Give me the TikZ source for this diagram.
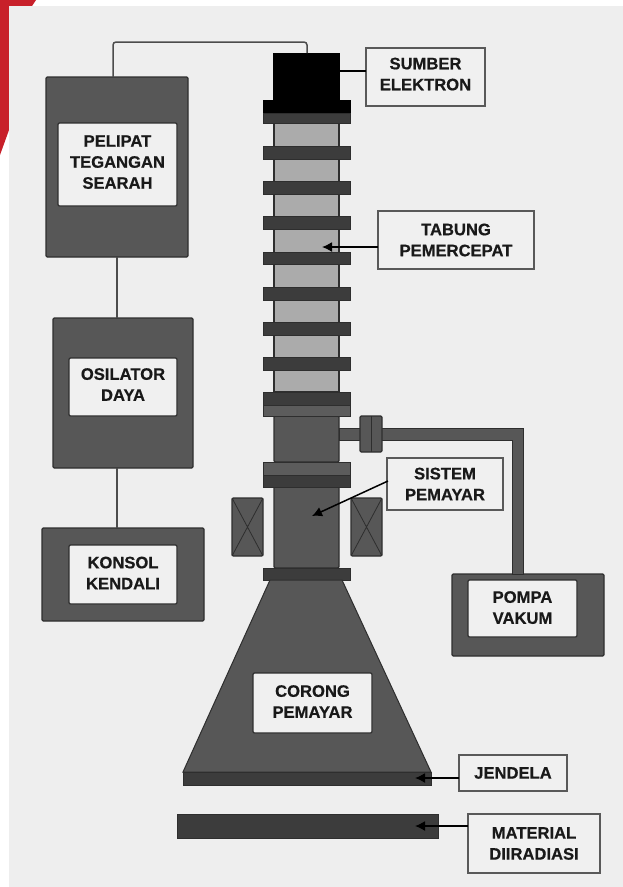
\documentclass[tikz,border=0pt]{standalone}
\usepackage{fontspec}
\setmainfont{Liberation Sans}[BoldFeatures={FakeBold=0.6}]
\usetikzlibrary{arrows.meta}
\definecolor{panel}{HTML}{EEEEEE}
\definecolor{redc}{HTML}{C8202A}
\definecolor{body}{HTML}{575757}
\definecolor{edge}{HTML}{2E2E2E}
\definecolor{ringc}{HTML}{3C3C3C}
\definecolor{ringl}{HTML}{5C5C5C}
\definecolor{tube}{HTML}{ABABAB}
\definecolor{labelc}{HTML}{F0F0F0}
\tikzset{
  solid box/.style={draw=edge,line width=1.3pt,fill=body,outer sep=0pt,inner sep=0pt,rounded corners=1.2pt},
  ring box/.style={draw=edge,line width=.8pt,fill=ringc,outer sep=0pt,inner sep=0pt},
  ring light/.style={draw=edge,line width=.8pt,fill=ringl,outer sep=0pt,inner sep=0pt},
  tube box/.style={draw=edge,line width=1.4pt,fill=tube,outer sep=0pt,inner sep=0pt},
  black box/.style={draw=black,fill=black,outer sep=0pt,inner sep=0pt},
  inner box/.style={draw=edge,line width=1.3pt,fill=labelc,outer sep=0pt,inner sep=0pt,align=center,rounded corners=1.2pt,
    font=\bfseries\fontsize{16.6}{21}\selectfont,text=black!90},
  call box/.style={draw=black!65,line width=1.2pt,fill=labelc,outer sep=0pt,inner sep=0pt,align=center,
    font=\bfseries\fontsize{16.6}{21}\selectfont,text=black!90},
  wire/.style={draw=black!70,line width=1.5pt},
  pointer/.style={draw=black,line width=1.5pt,-{Latex[length=10pt,width=10pt]}},
  pipe/.style={draw=edge,line width=1pt,fill=body},
}
% name, x1, y1, x2, y2, style, text
\newcommand{\pxbox}[7]{%
  \pgfmathsetmacro{\bxw}{#4-#2}\pgfmathsetmacro{\bxh}{#5-#3}%
  \pgfmathsetmacro{\bxc}{(#2+#4)/2}\pgfmathsetmacro{\bxm}{(#3+#5)/2}%
  \node[#6,minimum width=\bxw pt,minimum height=\bxh pt,anchor=center] (#1) at (\bxc,\bxm) {#7};}
\begin{document}
\begin{tikzpicture}[x=1pt,y=-1pt]
\useasboundingbox (0,0) rectangle (623,887);
\fill[white] (0,0) rectangle (623,887);
\fill[redc] (0,0) -- (36,0) -- (32,6) -- (9,6) -- (9,130) -- (0,155) -- cycle;
\fill[panel] (9,6) rectangle (623,887);

% wires
\coordinate (wA) at (113,42);
\coordinate (wB) at (307,42);

% left stack
\pxbox{psu}{46}{77}{188}{257}{solid box}{}
\pxbox{psulab}{58}{123}{177}{206}{inner box,text depth=5pt}{PELIPAT\\TEGANGAN\\SEARAH}
\pxbox{osc}{53}{318}{193}{468}{solid box}{}
\pxbox{osclab}{69}{358}{177}{416}{inner box,text depth=5pt}{OSILATOR\\DAYA}
\pxbox{con}{42}{528}{204}{621}{solid box}{}
\pxbox{conlab}{69}{545}{177}{604}{inner box,text depth=3pt}{KONSOL\\KENDALI}

% column
\pxbox{tubeb}{274}{123}{339}{392}{tube box}{}
\pxbox{colA}{274}{416}{339}{462}{solid box}{}
\pxbox{colB}{274}{486}{339}{568}{solid box}{}
\pxbox{src}{273}{53}{339}{101}{black box}{}
\pxbox{topA}{263}{100}{350}{113}{black box}{}
\pxbox{topB}{263}{113}{350}{123}{ring box}{}
\pxbox{ra}{263}{146}{350}{159}{ring box}{}
\pxbox{rb}{263}{181}{350}{194}{ring box}{}
\pxbox{rc}{263}{216}{350}{229}{ring box}{}
\pxbox{rd}{263}{252}{350}{264}{ring box}{}
\pxbox{re}{263}{287}{350}{300}{ring box}{}
\pxbox{rf}{263}{322}{350}{335}{ring box}{}
\pxbox{rg}{263}{357}{350}{370}{ring box}{}
\pxbox{fA}{263}{392}{350}{405}{ring box}{}
\pxbox{fB}{263}{405}{350}{416}{ring light}{}
\pxbox{gA}{263}{462}{350}{475}{ring light}{}
\pxbox{gB}{263}{475}{350}{487}{ring box}{}
\pxbox{hA}{263}{568}{350}{580}{ring box}{}

% coils
\pxbox{coilL}{232}{498}{263}{556}{solid box}{}
\draw[edge,line width=.8pt] (coilL.north west) -- (coilL.south east) (coilL.north east) -- (coilL.south west);
\pxbox{coilR}{351}{498}{382}{556}{solid box}{}
\draw[edge,line width=.8pt] (coilR.north west) -- (coilR.south east) (coilR.north east) -- (coilR.south west);

% funnel and window
\draw[draw=edge,line width=1pt,fill=body] (270,580) -- (342,580) -- (431,772) -- (183,772) -- cycle;
\pxbox{win}{183}{772}{431}{785}{ring box}{}
\pxbox{mat}{177}{814}{438}{838}{ring box}{}
\pxbox{corong}{253}{673}{372}{733}{inner box,text depth=3pt}{CORONG\\PEMAYAR}

% vacuum line
\pxbox{pump}{452}{574}{604}{656}{solid box}{}
\draw[pipe] (339,428) -- (523,428) -- (523,574) -- (512,574) -- (512,440) -- (339,440) -- cycle;
\fill[body] (513,429) rectangle (522,441);
\pxbox{flange}{360}{416}{382}{452}{solid box}{}
\draw[edge,line width=1pt] (flange.north) -- (flange.south);
\pxbox{pumplab}{468}{580}{577}{637}{inner box,text depth=2pt}{POMPA\\VAKUM}

% wires between units
\draw[wire,rounded corners=3pt] (psu.north -| wA) -- (wA) -- (wB) -- (src.north -| wB);
\draw[wire] (psu.south -| 117,0) -- (osc.north -| 117,0);
\draw[wire] (osc.south -| 117,0) -- (con.north -| 117,0);

% callouts
\pxbox{lsrc}{366}{48}{485}{106}{call box,text depth=6pt}{SUMBER\\ELEKTRON}
\pxbox{ltube}{378}{211}{534}{269}{call box}{TABUNG\\PEMERCEPAT}
\pxbox{lscan}{387}{458}{503}{510}{call box}{SISTEM\\PEMAYAR}
\pxbox{lwin}{459}{755}{567}{791}{call box}{JENDELA}
\pxbox{lmat}{468}{814}{600}{873}{call box}{MATERIAL\\DIIRADIASI}
\coordinate (tsrc) at (318,71);
\coordinate (ttube) at (322,247);
\coordinate (tscan) at (312,516);
\coordinate (twin) at (415,778);
\coordinate (tmat) at (415,826);
\draw[pointer] (lsrc.west |- tsrc) -- (tsrc);
\draw[pointer] (ltube.west |- ttube) -- (ttube);
\draw[pointer] (388,481) -- (tscan);
\draw[pointer] (lwin.west |- twin) -- (twin);
\draw[pointer] (lmat.west |- tmat) -- (tmat);
\end{tikzpicture}
\end{document}
